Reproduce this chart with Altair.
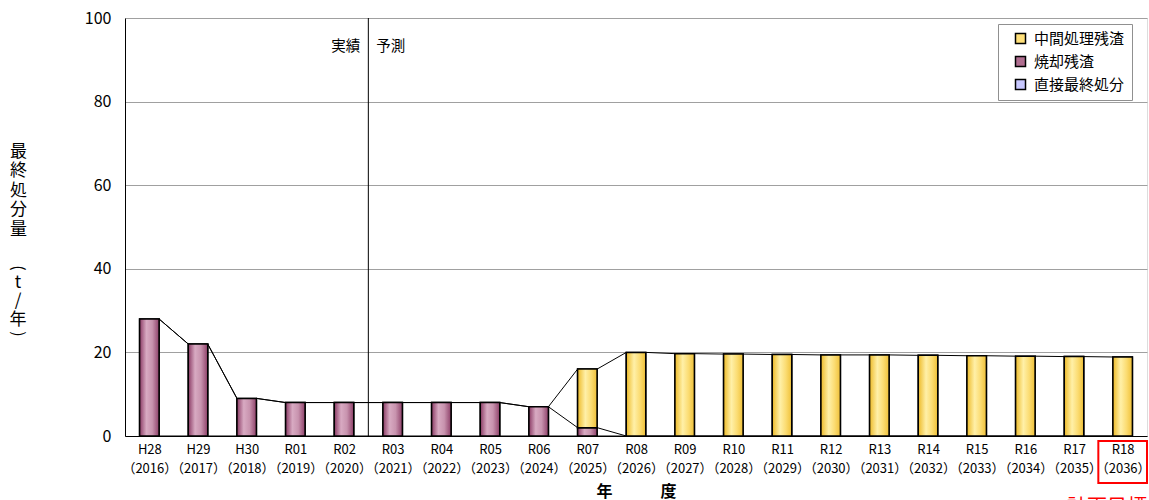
import json
import altair as alt
import pandas as pd

FONT = "Noto Sans CJK JP"

# ---- data ----
era_labels = ["H28", "H29", "H30", "R01", "R02", "R03", "R04", "R05", "R06", "R07",
              "R08", "R09", "R10", "R11", "R12", "R13", "R14", "R15", "R16", "R17", "R18"]
year_labels = ["2016", "2017", "2018", "2019", "2020", "2021", "2022", "2023", "2024", "2025",
               "2026", "2027", "2028", "2029", "2030", "2031", "2032", "2033", "2034", "2035", "2036"]

series_names = ["中間処理残渣", "焼却残渣", "直接最終処分"]  # legend order
direct = [0] * 21
incineration = [28, 22, 9, 8, 8, 8, 8, 8, 7, 2, 0, 0, 0, 0, 0, 0, 0, 0, 0, 0, 0]
intermediate = [0, 0, 0, 0, 0, 0, 0, 0, 0, 14, 20.0, 19.7, 19.6, 19.5, 19.4, 19.4, 19.3, 19.2, 19.1, 19.0, 18.9]

legend_colors = ["#FFE07A", "#B06E90", "#C8C8FF"]
split_index = 4.5  # between R02 (実績) and R03 (予測)
target_index = 20  # R18 計画目標

y_title_main = ["最", "終", "処", "分", "量"]
y_title_unit = ["(", "t", "/", "年", ")"]
y_title_unit_rot = [90, 0, 0, 0, 90]
y_title_unit_size = [16, 17, 17, 17, 16]
y_title_unit_pos = [250, 265, 283, 302, 316]  # layout (px from plot top)

BAR_HALF = 0.2

# ---- build tables ----
stack_order = [("直接最終処分", direct), ("焼却残渣", incineration), ("中間処理残渣", intermediate)]
bar_rows = []
tops = {}
for i in range(len(era_labels)):
    base = 0.0
    for name, vals in stack_order:
        v = vals[i]
        bar_rows.append({"idx": i, "xl": i - BAR_HALF, "xr": i + BAR_HALF,
                         "series": name, "value": v, "y0": base, "y1": base + v})
        base += v
        tops.setdefault(name, []).append(base)
bars = pd.DataFrame(bar_rows)

seg_rows = []
for name, _ in stack_order:
    t = tops[name]
    for i in range(len(t) - 1):
        seg_rows.append({"series": name, "x": i + BAR_HALF, "x2": i + 1 - BAR_HALF,
                         "y": t[i], "y2": t[i + 1]})
segs = pd.DataFrame(seg_rows)

labels_arr = [f"{e}|（{y}）" for e, y in zip(era_labels, year_labels)]
label_expr = "split(" + json.dumps(labels_arr, ensure_ascii=False) + "[datum.value], '|')"

W, H = 1022, 418

xscale = alt.Scale(domain=[-0.5, len(era_labels) - 0.5], nice=False, zero=False)
yscale = alt.Scale(domain=[0, 100], nice=False)

x_axis = alt.Axis(values=list(range(len(era_labels))), labelExpr=label_expr, ticks=False,
                  grid=False, labelFontSize=13, labelLineHeight=19, labelPadding=7,
                  labelOverlap=False, labelFlush=False, labelFont=FONT, labelColor="black",
                  domainColor="black", title="年　　　度", titleFont=FONT, titleFontSize=16,
                  titleFontWeight="bold", titlePadding=8, titleColor="black")
y_axis = alt.Axis(values=[0, 20, 40, 60, 80, 100], ticks=False, grid=True, gridColor="#A0A0A0",
                  labelFontSize=16, labelPadding=14, labelFont=FONT, labelColor="black",
                  domainColor="black",
                  title=y_title_main,
                  titleAngle=0, titleAlign="center", titleBaseline="top", titleX=-107,
                  titleY=125, titleFontSize=17, titleLineHeight=19.5, titleFont=FONT,
                  titleFontWeight="normal", titleColor="black")

base = alt.Chart(bars).transform_filter("datum.value > 0")

flat = base.mark_bar(stroke="black", strokeWidth=1.5).encode(
    x=alt.X("xl:Q", scale=xscale, axis=x_axis),
    x2="xr:Q",
    y=alt.Y("y0:Q", scale=yscale, axis=y_axis),
    y2="y1:Q",
    fill=alt.Fill("series:N",
                  scale=alt.Scale(domain=series_names, range=legend_colors),
                  legend=alt.Legend(orient="none", legendX=873, legendY=6, title=None,
                                    symbolType="square", symbolSize=100,
                                    symbolStrokeColor="black", symbolStrokeWidth=1.5,
                                    symbolOffset=8, labelOffset=6,
                                    labelFontSize=15, labelFont=FONT, labelColor="black",
                                    padding=7, rowPadding=6, strokeColor="#909090",
                                    fillColor="white", labelLimit=300)),
)

grad_mauve = alt.Gradient(gradient="linear", x1=0, x2=1, y1=0, y2=0,
                          stops=[alt.GradientStop(color="#8A3A64", offset=0),
                                 alt.GradientStop(color="#D8AAC2", offset=0.35),
                                 alt.GradientStop(color="#C893AE", offset=0.65),
                                 alt.GradientStop(color="#8E4069", offset=1)])
grad_yellow = alt.Gradient(gradient="linear", x1=0, x2=1, y1=0, y2=0,
                           stops=[alt.GradientStop(color="#EDBA28", offset=0),
                                  alt.GradientStop(color="#FFF0A8", offset=0.4),
                                  alt.GradientStop(color="#FBDC72", offset=0.7),
                                  alt.GradientStop(color="#EFC038", offset=1)])

enc = dict(x=alt.X("xl:Q", scale=xscale), x2="xr:Q",
           y=alt.Y("y0:Q", scale=yscale), y2="y1:Q")

mauve_bars = base.transform_filter("datum.series == '焼却残渣'").mark_bar(
    fill=grad_mauve, stroke="black", strokeWidth=1.5).encode(**enc)
yellow_bars = base.transform_filter("datum.series == '中間処理残渣'").mark_bar(
    fill=grad_yellow, stroke="black", strokeWidth=1.5).encode(**enc)

series_lines = alt.Chart(segs).mark_rule(color="black", strokeWidth=1).encode(
    x=alt.X("x:Q", scale=xscale), x2="x2:Q",
    y=alt.Y("y:Q", scale=yscale), y2="y2:Q")

split_df = pd.DataFrame({"x": [split_index]})
split_line = alt.Chart(split_df).mark_rule(color="black", strokeWidth=1).encode(
    x=alt.X("x:Q", scale=xscale), y=alt.value(0), y2=alt.value(H))

split_text = pd.DataFrame({"x": [split_index, split_index], "y": [93, 93],
                           "t": ["実績", "予測"], "side": ["L", "R"]})
txt_left = alt.Chart(split_text).transform_filter("datum.side == 'L'").mark_text(
    align="right", baseline="middle", dx=-8, fontSize=14.5, font=FONT, color="black").encode(
    x=alt.X("x:Q", scale=xscale), y=alt.Y("y:Q", scale=yscale), text="t:N")
txt_right = alt.Chart(split_text).transform_filter("datum.side == 'R'").mark_text(
    align="left", baseline="middle", dx=8, fontSize=14.5, font=FONT, color="black").encode(
    x=alt.X("x:Q", scale=xscale), y=alt.Y("y:Q", scale=yscale), text="t:N")

# unit part of the vertical y-axis title: (t/年) written vertically
unit_df = pd.DataFrame({"t": y_title_unit, "ang": y_title_unit_rot, "py": y_title_unit_pos,
                        "fs": y_title_unit_size})
unit_text = alt.Chart(unit_df).mark_text(
    align="center", baseline="middle", font=FONT, color="black").encode(
    x=alt.value(-107), y=alt.Y("py:Q", scale=None), text="t:N",
    angle=alt.Angle("ang:Q", scale=None), size=alt.Size("fs:Q", scale=None))

target_df = pd.DataFrame({"x": [target_index - 0.5], "x2": [target_index + 0.5],
                          "t": ["計画目標"]})
target_box = alt.Chart(target_df).mark_rect(fillOpacity=0, stroke="#FF0000", strokeWidth=2).encode(
    x=alt.X("x:Q", scale=xscale), x2="x2:Q", y=alt.value(H + 5), y2=alt.value(H + 47))
target_text = alt.Chart(target_df).mark_text(
    align="right", baseline="top", fontSize=20, font=FONT, color="#FF0000").encode(
    x=alt.X("x2:Q", scale=xscale), y=alt.value(H + 62), text="t:N")

chart = alt.layer(
    flat, mauve_bars, yellow_bars, series_lines, split_line, txt_left, txt_right,
    unit_text, target_box, target_text
).properties(
    width=W, height=H, autosize="none",
    padding={"left": 125, "top": 18, "right": 2, "bottom": 70},
).configure_view(stroke="black", strokeWidth=1).configure(background="white")

chart.save("out.html", embed_options={"renderer": "svg", "actions": False})
